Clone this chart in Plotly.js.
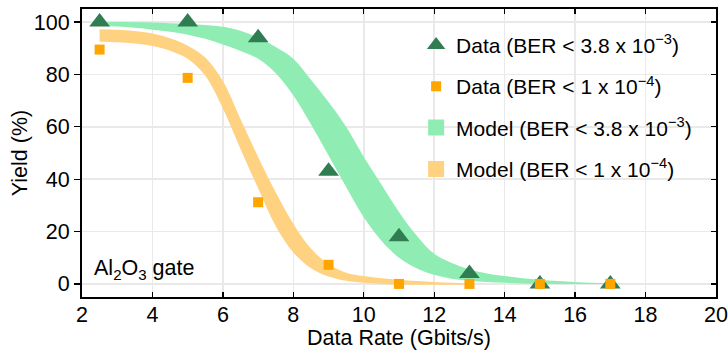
<!DOCTYPE html>
<html>
<head>
<meta charset="utf-8">
<script src="https://cdn.plot.ly/plotly-3.0.1.min.js"></script>
<style>
  html, body { margin: 0; padding: 0; background: #ffffff; }
  #chart { width: 728px; height: 350px; }
</style>
</head>
<body>
<div id="chart"></div>
<script>
// ---- measured data ----
const dataRate = [2.5, 5, 7, 9, 11, 13, 15, 17];
const yieldBER38e3 = [100, 100, 94, 43, 18, 4, 0, 0];
const yieldBER1e4 = [89.5, 78.7, 31.2, 7.3, 0, 0, 0, 0];

// ---- model bands ----
const modelRateGreen = [2.5, 3, 3.5, 4, 4.5, 5, 5.5, 6, 6.5, 7, 7.5, 8, 8.5, 9, 9.5, 10,
                        10.5, 11, 11.5, 12, 12.5, 13, 13.5, 14, 14.5, 15, 15.5, 16, 16.5, 17, 17.5];
const greenUpper = [100, 100, 99.9, 99.8, 99.6, 99.3, 98.9, 98.2, 96.7, 94, 90.5, 86, 78, 69.5, 60, 48.5,
                    38, 27.5, 18.5, 11.5, 8, 5.5, 4, 3, 2.2, 1.6, 1.1, 0.7, 0.4, 0.2, 0];
const greenLower = [98.5, 98.3, 97.8, 97.1, 96.3, 95.2, 93.6, 91.4, 89, 86, 80.5, 72, 61, 49, 37, 25.5,
                    16.5, 10, 6, 3.5, 2, 1.2, 0.7, 0.4, 0.2, 0.1, 0, 0, 0, 0, 0];

const modelRateOrange = [2.5, 3, 3.5, 4, 4.5, 5, 5.5, 6, 6.5, 7, 7.5, 8, 8.5, 9, 9.5, 10,
                         10.5, 11, 11.5, 12, 12.5, 13];
const orangeUpper = [97.3, 97.1, 96.6, 95.6, 93.8, 91, 86.5, 77.5, 63, 48.5, 35, 23, 13.5, 7.5, 4.3, 3,
                     2.2, 1.6, 1.1, 0.7, 0.4, 0.2];
const orangeLower = [92.5, 92.3, 91.8, 90.9, 89.1, 86, 79.5, 67, 51.5, 36.5, 22, 12, 6, 2.8, 1.2, 0.4,
                     0, -0.3, -0.3, -0.3, -0.3, -0.2];

const xTicks = [2, 4, 6, 8, 10, 12, 14, 16, 18, 20];
const yTicks = [0, 20, 40, 60, 80, 100];

const legendNames = [
  'Data (BER < 3.8 x 10<sup>\u22123</sup>)',
  'Data (BER < 1 x 10<sup>\u22124</sup>)',
  'Model (BER < 3.8 x 10<sup>\u22123</sup>)',
  'Model (BER < 1 x 10<sup>\u22124</sup>)'
];

// ---- styling ----
const FONT = 'Liberation Sans, Arial, Helvetica, sans-serif';
const FS = 21.5;
const FS_LEG = 21;
const cDarkGreen = '#317d52';
const cOrange = '#ffa500';
const cGreenBand = '#8fedb4';
const cOrangeBand = '#ffd282';

const bandLine = { width: 0, shape: 'spline', smoothing: 1 };

const traces = [
  { x: modelRateOrange, y: orangeLower, mode: 'lines', line: bandLine, showlegend: false, hoverinfo: 'skip' },
  { x: modelRateOrange, y: orangeUpper, mode: 'lines', line: bandLine, fill: 'tonexty',
    fillcolor: cOrangeBand, showlegend: false, hoverinfo: 'skip' },
  { x: modelRateGreen, y: greenLower, mode: 'lines', line: bandLine, showlegend: false, hoverinfo: 'skip' },
  { x: modelRateGreen, y: greenUpper, mode: 'lines', line: bandLine, fill: 'tonexty',
    fillcolor: cGreenBand, showlegend: false, hoverinfo: 'skip' },
  { x: dataRate, y: yieldBER38e3, mode: 'markers', name: legendNames[0], legendrank: 1, legendgroup: 'a',
    marker: { symbol: 'triangle-up', size: 18, color: cDarkGreen } },
  { x: dataRate, y: yieldBER1e4, mode: 'markers', name: legendNames[1], legendrank: 2, legendgroup: 'b',
    marker: { symbol: 'square', size: 10, color: cOrange } },
  { x: [null], y: [null], mode: 'markers', name: legendNames[2], legendrank: 3, legendgroup: 'c',
    marker: { symbol: 'square', size: 16, color: cGreenBand } },
  { x: [null], y: [null], mode: 'markers', name: legendNames[3], legendrank: 4, legendgroup: 'd',
    marker: { symbol: 'square', size: 16, color: cOrangeBand } },
  { x: [null], y: [null], yaxis: 'y2', mode: 'markers', showlegend: false, hoverinfo: 'skip' }
];

const layout = {
  width: 728,
  height: 350,
  margin: { l: 82, r: 12, t: 9, b: 53, pad: 0 },
  paper_bgcolor: '#ffffff',
  plot_bgcolor: '#ffffff',
  font: { family: FONT, size: FS, color: '#000000' },
  showlegend: true,
  legend: {
    x: 0.527, xanchor: 'left', y: 0.945, yanchor: 'top',
    bgcolor: 'rgba(0,0,0,0)', borderwidth: 0,
    font: { family: FONT, size: FS_LEG, color: '#000000' },
    tracegroupgap: 11, itemsizing: 'trace'
  },
  xaxis: {
    range: [2, 20], tickvals: xTicks, ticktext: xTicks.map(String),
    ticks: 'inside', ticklen: 5, tickwidth: 1.3, tickcolor: '#000',
    showline: true, linewidth: 2, linecolor: '#000', mirror: 'ticks',
    showgrid: true, gridcolor: '#e9e9e9', gridwidth: 1.5, zeroline: false,
    tickfont: { family: FONT, size: FS }, ticklabelstandoff: -3,
    title: { text: 'Data Rate (Gbits/s)', font: { family: FONT, size: FS }, standoff: 0 }
  },
  yaxis: {
    range: [-5, 105], tickvals: yTicks, ticktext: yTicks.map(String),
    ticks: 'outside', ticklen: 6, tickwidth: 1.3, tickcolor: '#000',
    showline: true, linewidth: 2, linecolor: '#000', mirror: true,
    showgrid: true, gridcolor: '#e9e9e9', gridwidth: 1.5, zeroline: false,
    tickfont: { family: FONT, size: FS },
    title: { text: 'Yield (%)', font: { family: FONT, size: FS }, standoff: 0 }
  },
  yaxis2: {
    overlaying: 'y', side: 'right', range: [-5, 105], tickvals: yTicks,
    ticks: 'inside', ticklen: 5, tickwidth: 1.3, tickcolor: '#000',
    showticklabels: false, showline: false, showgrid: false, zeroline: false
  },
  annotations: [{
    xref: 'paper', yref: 'paper', x: 0.016, y: 0.094, xanchor: 'left', yanchor: 'middle',
    text: 'Al<sub>2</sub>O<sub>3</sub> gate', showarrow: false,
    font: { family: FONT, size: FS, color: '#000' }
  }]
};

Plotly.newPlot('chart', traces, layout, { displayModeBar: false, staticPlot: true });
</script>
</body>
</html>
